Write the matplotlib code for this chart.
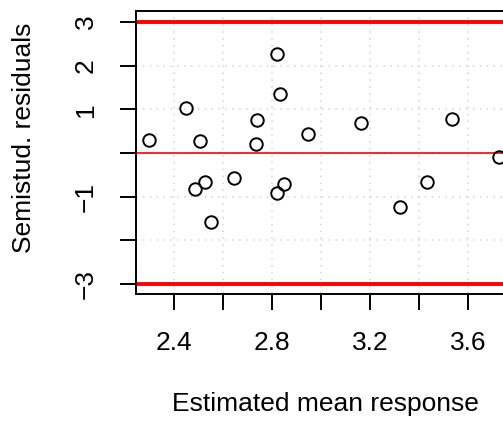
import numpy as np
import matplotlib
matplotlib.use('Agg')
import matplotlib.pyplot as plt

plt.rcParams['font.family'] = ['Liberation Sans', 'DejaVu Sans']

# estimated mean response and semistudentized residuals
fitted = [2.299, 2.448, 2.507, 2.484, 2.527, 2.551, 2.646, 2.740, 2.733, 2.819,
          2.831, 2.819, 2.850, 2.947, 3.162, 3.321, 3.431, 3.533, 3.728]
semistud = [0.298, 1.04, 0.275, -0.817, -0.657, -1.587, -0.572, 0.763, 0.198, 2.275,
            1.359, -0.924, -0.718, 0.443, 0.695, -1.229, -0.672, 0.779, -0.092]

x_ticks = [2.4, 2.6, 2.8, 3.0, 3.2, 3.4, 3.6]
x_labels = ['2.4', '', '2.8', '', '3.2', '', '3.6']
y_ticks = [-3, -2, -1, 0, 1, 2, 3]
y_labels = ['\u22123', '', '\u22121', '', '1', '2', '3']

W, H = 503, 421
fig = plt.figure(figsize=(W / 100, H / 100), dpi=100)

left, top, bottom = 135.5, 11, 293.5
ax = fig.add_axes([left / W, 1 - bottom / H, 1 - left / W, (bottom - top) / H])

# data limits matching pixel positions in the reference
ax.set_xlim(2.4 + (left - 174) / 245, 2.4 + (W - 174) / 245)
ax.set_ylim(-3 - (bottom - 284) / 43.67, 3 + (22 - top) / 43.67)

for xv in x_ticks:
    ax.axvline(xv, color='lightgray', lw=1.1, ls=(0, (1, 3.5)), zorder=1)
for yv in y_ticks:
    ax.axhline(yv, color='lightgray', lw=1.1, ls=(0, (1, 3.5)), zorder=1)

ax.axhline(3, color='red', lw=2.8, zorder=2)
ax.axhline(-3, color='red', lw=2.8, zorder=2)
ax.axhline(0, color='red', lw=1.2, zorder=2)

ax.plot(fitted, semistud, 'o', mfc='none', mec='black', ms=9, mew=1.4, zorder=3)

ax.set_xticks(x_ticks)
ax.set_xticklabels(x_labels)
ax.set_yticks(y_ticks)
ax.set_yticklabels(y_labels, rotation=90, va='center')
ax.tick_params(axis='both', length=11.5, width=1.4, labelsize=19, pad=15.5)

for side in ['left', 'bottom', 'top']:
    ax.spines[side].set_linewidth(1.4)
ax.spines['right'].set_visible(False)

fig.text(325 / W, 1 - 411 / H, 'Estimated mean response', ha='center', va='baseline', fontsize=19)
fig.text(24 / W, 1 - 137.5 / H, 'Semistud. residuals', ha='center', va='center',
         rotation=90, fontsize=19)

fig.savefig('out.png', dpi=100)
